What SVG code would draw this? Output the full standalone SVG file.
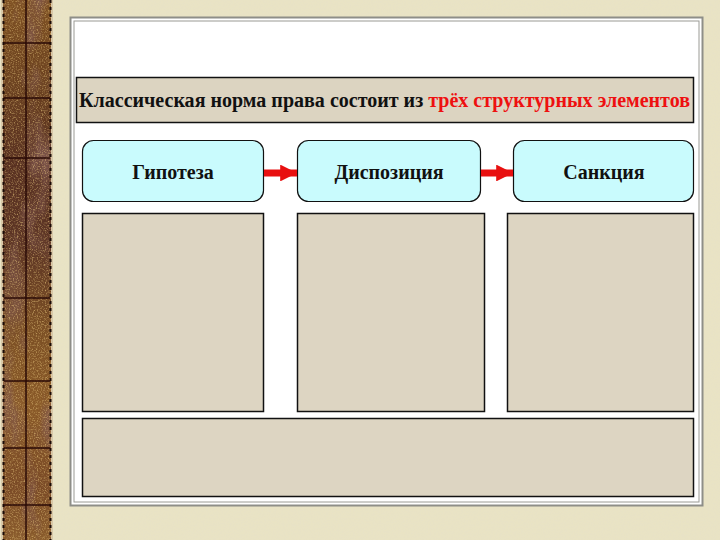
<svg xmlns="http://www.w3.org/2000/svg" width="720" height="540" viewBox="0 0 720 540">
  <defs>
    <filter id="grain" x="0" y="0" width="100%" height="100%">
      <feTurbulence type="fractalNoise" baseFrequency="0.75" numOctaves="2" seed="3" result="n"/>
      <feColorMatrix in="n" type="matrix" values="0 0 0 0 0.78  0 0 0 0 0.55  0 0 0 0 0.2  1.6 0 0 0 -0.75" result="c"/>
      <feComposite in="c" in2="SourceGraphic" operator="in"/>
    </filter>
    <filter id="blotch" x="0" y="0" width="100%" height="100%">
      <feTurbulence type="fractalNoise" baseFrequency="0.04 0.015" numOctaves="3" seed="11" result="n"/>
      <feColorMatrix in="n" type="matrix" values="0 0 0 0 0.22  0 0 0 0 0.1  0 0 0 0 0.08  0 0 0 2.5 -1.2" result="c"/>
      <feComposite in="c" in2="SourceGraphic" operator="in"/>
    </filter>
    <filter id="paper" x="0" y="0" width="100%" height="100%">
      <feTurbulence type="fractalNoise" baseFrequency="0.6" numOctaves="2" seed="7" result="n"/>
      <feColorMatrix in="n" type="matrix" values="0 0 0 0 0.78  0 0 0 0 0.74  0 0 0 0 0.6  0 0 0 0.6 -0.22" result="c"/>
      <feComposite in="c" in2="SourceGraphic" operator="in"/>
    </filter>
    <linearGradient id="brown" x1="0" y1="0" x2="0" y2="1">
      <stop offset="0" stop-color="#7e5022"/>
      <stop offset="0.15" stop-color="#6c4220"/>
      <stop offset="0.3" stop-color="#583020"/>
      <stop offset="0.45" stop-color="#5c3424"/>
      <stop offset="0.6" stop-color="#7a4e24"/>
      <stop offset="0.75" stop-color="#8a5a28"/>
      <stop offset="0.9" stop-color="#7a4a26"/>
      <stop offset="1" stop-color="#8a5c2c"/>
    </linearGradient>
    <marker id="arrow" viewBox="0 0 10 10" refX="10" refY="5" markerWidth="2.4" markerHeight="2.4" orient="auto" markerUnits="strokeWidth">
      <path d="M0,0 L10,5 L0,10 z" fill="#e81010"/>
    </marker>
    <style>
      .label { font-family: "Liberation Serif", "DejaVu Serif", serif; font-weight: bold; font-size: 20px; fill: #111; text-anchor: middle; }
      .title { font-family: "Liberation Serif", "DejaVu Serif", serif; font-weight: bold; font-size: 20px; fill: #111; }
      .head { fill: #c9fbfd; stroke: #111; stroke-width: 1.2; }
      .box { fill: #ddd5c2; stroke: #111; stroke-width: 1.5; }
      .conn { stroke: #e81010; stroke-width: 7; fill: none; }
      .grid { stroke: #2a0a06; stroke-width: 1.5; }
    </style>
  </defs>

  <!-- background -->
  <rect x="0" y="0" width="720" height="540" fill="#e9e3c4"/>
  <rect x="0" y="0" width="720" height="540" fill="#e9e3c4" filter="url(#paper)"/>

  <!-- left decorative strip -->
  <g id="strip">
    <rect x="1" y="0" width="52" height="540" fill="#d8c8a8"/>
    <rect x="3" y="0" width="48" height="540" fill="url(#brown)"/>
    <rect x="3" y="0" width="48" height="540" fill="#000" filter="url(#blotch)"/>
    <rect x="3" y="0" width="48" height="540" fill="#000" filter="url(#grain)"/>
    <line x1="3.5" y1="0" x2="3.5" y2="540" stroke="#1a0a06" stroke-width="2" stroke-dasharray="3 4"/>
    <line x1="50.5" y1="0" x2="50.5" y2="540" stroke="#1a0a06" stroke-width="2" stroke-dasharray="3 4"/>
    <line class="grid" x1="26" y1="0" x2="26" y2="540"/>
    <line class="grid" x1="4" y1="43" x2="50" y2="43"/>
    <line class="grid" x1="4" y1="98" x2="50" y2="98"/>
    <line class="grid" x1="4" y1="158" x2="50" y2="158"/>
    <line class="grid" x1="4" y1="298" x2="50" y2="298"/>
    <line class="grid" x1="4" y1="381" x2="50" y2="381"/>
    <line class="grid" x1="4" y1="448" x2="50" y2="448"/>
    <line class="grid" x1="4" y1="505" x2="50" y2="505"/>
  </g>

  <!-- white panel -->
  <g id="panel">
    <rect x="70.5" y="17.5" width="632" height="488" fill="#ffffff" stroke="#8e8e88" stroke-width="2"/>
    <rect x="74" y="21" width="625" height="481" fill="none" stroke="#9a9a94" stroke-width="1"/>
  </g>

  <!-- title -->
  <g id="title">
    <rect x="76.5" y="77.5" width="617" height="45" fill="#dcd4c1" stroke="#111" stroke-width="1.5"/>
    <text class="title" x="79" y="107" textLength="611" lengthAdjust="spacingAndGlyphs">Классическая норма права состоит из <tspan fill="#ee1010">трёх структурных элементов</tspan></text>
  </g>

  <!-- header nodes -->
  <g id="node-gipoteza">
    <rect class="head" x="82.5" y="140.5" width="181" height="61" rx="11"/>
    <text class="label" x="173" y="179">Гипотеза</text>
  </g>
  <g id="node-dispoziciya">
    <rect class="head" x="297.5" y="140.5" width="183" height="61" rx="11"/>
    <text class="label" x="389" y="179">Диспозиция</text>
  </g>
  <g id="node-sankciya">
    <rect class="head" x="513.5" y="140.5" width="180" height="61" rx="11"/>
    <text class="label" x="604" y="179">Санкция</text>
  </g>

  <!-- content boxes -->
  <g id="box-1"><rect class="box" x="82.5" y="213.5" width="181" height="198"/></g>
  <g id="box-2"><rect class="box" x="297.5" y="213.5" width="187" height="198"/></g>
  <g id="box-3"><rect class="box" x="507.5" y="213.5" width="186" height="198"/></g>
  <g id="box-bottom"><rect class="box" x="82.5" y="418.5" width="611" height="78"/></g>

  <!-- connectors -->
  <g id="connectors">
    <line class="conn" x1="264" y1="173" x2="297" y2="173" marker-end="url(#arrow)"/>
    <line class="conn" x1="481" y1="173" x2="513" y2="173" marker-end="url(#arrow)"/>
  </g>
</svg>
